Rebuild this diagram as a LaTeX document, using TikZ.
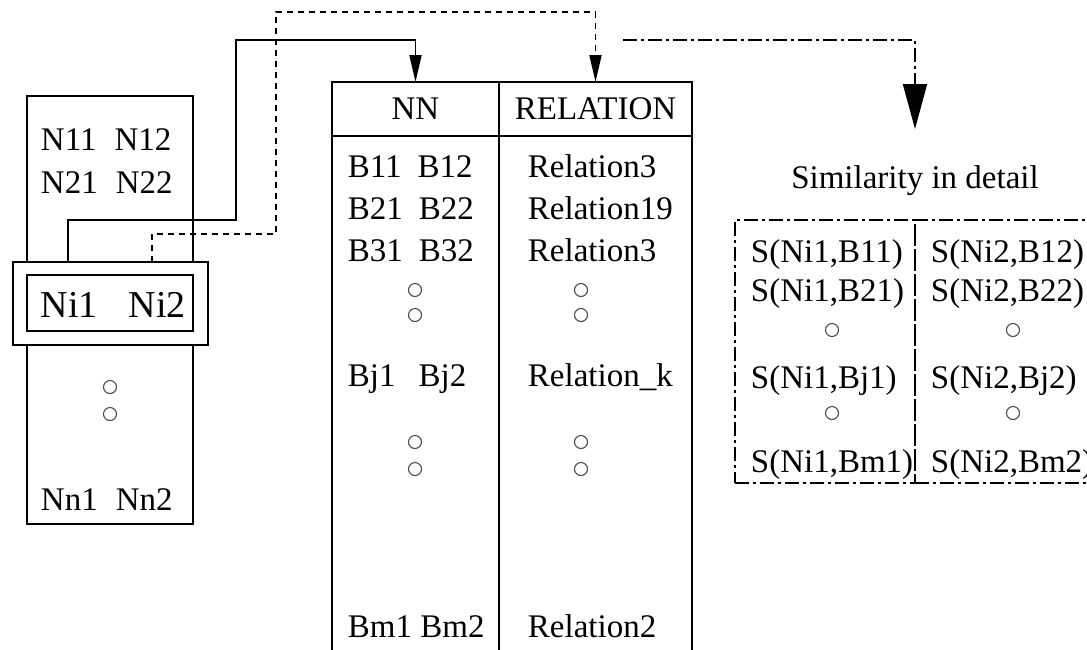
\documentclass[tikz,border=0pt]{standalone}
\usepackage{fontspec}
\setmainfont{Liberation Serif}
\usetikzlibrary{arrows.meta,calc}

\begin{document}
\begin{tikzpicture}[x=1pt,y=-1pt, line width=1.9pt,
  lbl/.style={inner sep=0pt, anchor=base west, font=\fontsize{33}{33}\selectfont},
  clbl/.style={lbl, anchor=base},
  boxed/.style={draw, inner sep=0pt, outer sep=0pt, anchor=north west},
  ring/.style={circle, draw=black!70, line width=1.1pt, inner sep=0pt, minimum size=13pt},
  smallhead/.style={-{Triangle[width=12pt,length=27pt]}},
  bighead/.style={-{Triangle[width=24pt,length=45pt]}},
  dotline/.style={dash pattern=on 6pt off 5pt},
  dashdot/.style={dash pattern=on 14pt off 4pt on 3pt off 4pt},
]
\useasboundingbox (0,0) rectangle (1087,649);

% ---- list of N pairs ----
\node[boxed, minimum width=166pt, minimum height=428pt] (nlist) at (27,96) {};
\node[lbl] (n1) at (40,150) {N11\hspace{18pt}N12};
\node[lbl] (n2) at (40,193) {N21\hspace{18pt}N22};
\node[ring] (nd1) at (110,387) {};
\node[ring] (nd2) at (110,414) {};
\node[lbl] (nn) at (40,510) {Nn1\hspace{18pt}Nn2};

% selected pair, framed twice
\node[boxed, fill=white, minimum width=195pt, minimum height=83pt] (niframe) at (13,262) {};
\node[boxed, minimum width=166pt, minimum height=56pt] (nibox) at (27,275) {};
\node[lbl, font=\fontsize{38}{38}\selectfont] (ni) at (40,317) {Ni1\hspace{31pt}Ni2};

% ---- NN / RELATION table ----
\node[boxed, minimum width=167pt, minimum height=54pt, font=\fontsize{33}{33}\selectfont] (hNN) at (332,82) {NN};
\node[boxed, minimum width=193pt, minimum height=54pt, font=\fontsize{33}{33}\selectfont] (hRel) at (499,82) {RELATION};
\node[boxed, minimum width=167pt, minimum height=540pt] (bNN) at (hNN.south west) {};
\node[boxed, minimum width=193pt, minimum height=540pt] (bRel) at (hRel.south west) {};

\node[lbl] (b1) at (347,177) {B11\hspace{16pt}B12};
\node[lbl] (b2) at (347,219) {B21\hspace{16pt}B22};
\node[lbl] (b3) at (347,261) {B31\hspace{16pt}B32};
\node[ring] (bd1) at (415,290) {};
\node[ring] (bd2) at (415,315) {};
\node[lbl] (bj) at (347,386) {Bj1\hspace{23pt}Bj2};
\node[ring] (bd3) at (415,442) {};
\node[ring] (bd4) at (415,469) {};
\node[lbl] (bm) at (347,637) {Bm1 Bm2};

\node[lbl] (r1) at (527,177) {Relation3};
\node[lbl] (r2) at (527,219) {Relation19};
\node[lbl] (r3) at (527,261) {Relation3};
\node[ring] (rd1) at (581,290) {};
\node[ring] (rd2) at (581,315) {};
\node[lbl] (rk) at (527,386) {Relation\_k};
\node[ring] (rd3) at (581,442) {};
\node[ring] (rd4) at (581,469) {};
\node[lbl] (rm) at (527,637) {Relation2};

% ---- similarity detail ----
\node[clbl] (simtitle) at (915,188) {Similarity in detail};
\node[boxed, dashdot, minimum width=180pt, minimum height=263pt] (simL) at (735,220) {};
\node[boxed, dashdot, minimum width=200pt, minimum height=263pt] (simR) at (915,220) {};

\node[lbl] (s11) at (750,262) {S(Ni1,B11)};
\node[lbl] (s12) at (750,301) {S(Ni1,B21)};
\node[ring] (sd1) at (832,330) {};
\node[lbl] (s1j) at (750,388) {S(Ni1,Bj1)};
\node[ring] (sd2) at (832,413) {};
\node[lbl] (s1m) at (750,472) {S(Ni1,Bm1)};

\node[lbl] (s21) at (930,262) {S(Ni2,B12)};
\node[lbl] (s22) at (930,301) {S(Ni2,B22)};
\node[ring] (sd3) at (1013,330) {};
\node[lbl] (s2j) at (930,388) {S(Ni2,Bj2)};
\node[ring] (sd4) at (1013,413) {};
\node[lbl] (s2m) at (930,472) {S(Ni2,Bm2)};

% ---- connectors ----
\draw[smallhead] ([xshift=55pt]niframe.north west) -- ++(0,-42) -| (236,40) -| (hNN.north);
\draw[dotline, smallhead] ([xshift=139pt]niframe.north west) -- ++(0,-28) -| (276,12) -| (hRel.north);
\coordinate (ddstart) at (623,40);
\coordinate (simtip) at (915,129);
\draw[dashdot, bighead] (ddstart) -| (simtip);
\end{tikzpicture}
\end{document}
